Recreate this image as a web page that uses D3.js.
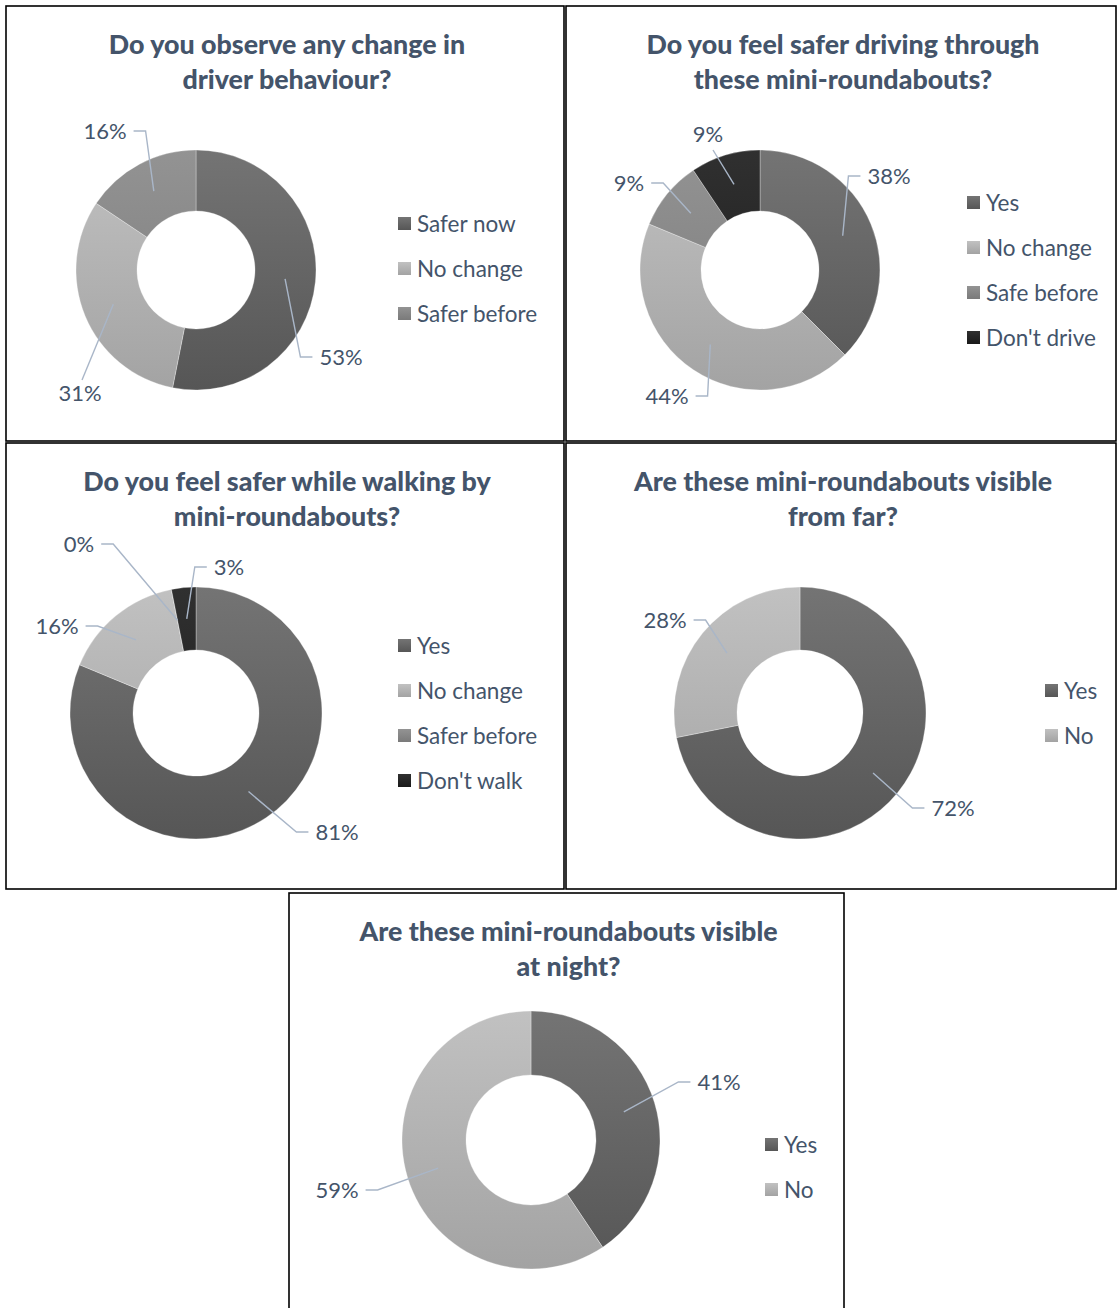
<!DOCTYPE html>
<html>
<head>
<meta charset="utf-8">
<script src="https://cdn.jsdelivr.net/npm/d3@7"></script>
<style>
    body { margin: 0; background: #ffffff; }
    svg { display: block; }
</style>
</head>
<body>
<div id="chart"></div>
<script>
// survey answers, 32 respondents per question
const driverTitle = ["Do you observe any change in", "driver behaviour?"];
const driverCats = ["Safer now", "No change", "Safer before"];
const driverCounts = [17, 10, 5];

const drivingTitle = ["Do you feel safer driving through", "these mini-roundabouts?"];
const drivingCats = ["Yes", "No change", "Safe before", "Don't drive"];
const drivingCounts = [12, 14, 3, 3];

const walkingTitle = ["Do you feel safer while walking by", "mini-roundabouts?"];
const walkingCats = ["Yes", "No change", "Safer before", "Don't walk"];
const walkingCounts = [26, 5, 0, 1];

const farTitle = ["Are these mini-roundabouts visible", "from far?"];
const farCats = ["Yes", "No"];
const farCounts = [23, 9];

const nightTitle = ["Are these mini-roundabouts visible", "at night?"];
const nightCats = ["Yes", "No"];
const nightCounts = [13, 19];

// shade per answer slot
const shadeSets = {
    three: ["dark", "light", "mid"],
    four: ["dark", "light", "mid", "black"],
    two: ["dark", "light"]
};

const shades = {
    dark: ["#747474", "#565656"],
    light: ["#c1c1c1", "#a3a3a3"],
    mid: ["#939393", "#7a7a7a"],
    black: ["#303030", "#1a1a1a"]
};

const textColor = "#44546a",
    leaderColor = "#a9b6c8";

const W = 1117, H = 1308;

const svg = d3.select("#chart")
    .append("svg")
    .attr("width", W)
    .attr("height", H)
    .attr("font-family", "Lato, 'Open Sans', sans-serif");

const defs = svg.append("defs");

// panel layout: frame, donut centre/radii, legend anchor, label spots (relative to donut centre)
const panels = [
    {title: driverTitle, cats: driverCats, counts: driverCounts, shades: shadeSets.three,
        frame: [6, 6, 558, 435], cx: 196, cy: 270, R: 120, r: 59,
        legend: [398, 224], labels: [[145, 87, "left"], [-116, 123, "top"], [-91, -139, "right"]]},
    {title: drivingTitle, cats: drivingCats, counts: drivingCounts, shades: shadeSets.four,
        frame: [566, 6, 550, 435], cx: 760, cy: 270, R: 120, r: 59,
        legend: [967, 203], labels: [[129, -94, "left"], [-93, 126, "right"], [-131, -87, "right"], [-52, -136, "bottom"]]},
    {title: walkingTitle, cats: walkingCats, counts: walkingCounts, shades: shadeSets.four,
        frame: [6, 443, 558, 446], cx: 196, cy: 713, R: 126, r: 63,
        legend: [398, 646], labels: [[141, 119, "left"], [-139, -87, "right"], [-117, -169, "right"], [33, -146, "left"]]},
    {title: farTitle, cats: farCats, counts: farCounts, shades: shadeSets.two,
        frame: [566, 443, 550, 446], cx: 800, cy: 713, R: 126, r: 63,
        legend: [1045, 691], labels: [[153, 95, "left"], [-135, -93, "right"]]},
    {title: nightTitle, cats: nightCats, counts: nightCounts, shades: shadeSets.two,
        frame: [289, 893, 555, 420], cx: 531, cy: 1140, R: 129, r: 65,
        legend: [765, 1145], labels: [[188, -58, "left"], [-194, 50, "right"]]}
];

const pie = d3.pie()
    .sort(null)
    .value(function(d) { return d; });

// one legend swatch gradient per shade
Object.keys(shades).forEach(function(key) {
    const g = defs.append("linearGradient")
        .attr("id", "sw-" + key)
        .attr("x1", 0).attr("y1", 0).attr("x2", 0).attr("y2", 1);
    g.append("stop").attr("offset", "0%").attr("stop-color", shades[key][0]);
    g.append("stop").attr("offset", "100%").attr("stop-color", shades[key][1]);
});

const drawPanel = (p, idx) => {
    const f = p.frame;
    svg.append("rect")
        .attr("x", f[0]).attr("y", f[1])
        .attr("width", f[2]).attr("height", f[3])
        .attr("fill", "none")
        .attr("stroke", "#000")
        .attr("stroke-width", 1.6);

    const midX = f[0] + f[2] / 2 + 2;
    svg.append("g")
        .selectAll("text")
        .data(p.title)
        .enter().append("text")
        .attr("x", midX)
        .attr("y", function(d, i) { return f[1] + 48 + i * 35; })
        .attr("text-anchor", "middle")
        .attr("font-weight", 900)
        .attr("font-size", 26.8)
        .attr("fill", textColor)
        .text(function(d) { return d; });

    // vertical gradients spanning the donut
    Object.keys(shades).forEach(function(key) {
        const g = defs.append("linearGradient")
            .attr("id", "g" + idx + "-" + key)
            .attr("gradientUnits", "userSpaceOnUse")
            .attr("x1", 0).attr("y1", -p.R).attr("x2", 0).attr("y2", p.R);
        g.append("stop").attr("offset", "0%").attr("stop-color", shades[key][0]);
        g.append("stop").attr("offset", "100%").attr("stop-color", shades[key][1]);
    });

    const arc = d3.arc()
        .innerRadius(p.r)
        .outerRadius(p.R);

    const mid = d3.arc()
        .innerRadius((p.r + p.R) / 2)
        .outerRadius((p.r + p.R) / 2);

    const arcs = pie(p.counts);
    const total = d3.sum(p.counts);

    const donut = svg.append("g")
        .attr("transform", "translate(" + p.cx + "," + p.cy + ")");

    donut.selectAll("path")
        .data(arcs)
        .enter().append("path")
        .attr("d", arc)
        .attr("fill", function(d, i) { return "url(#g" + idx + "-" + p.shades[i] + ")"; })
        .attr("stroke", "#ffffff")
        .attr("stroke-opacity", 0.5)
        .attr("stroke-width", 0.6);

    // labels + leader lines
    arcs.forEach(function(d, i) {
        const spot = p.labels[i];
        const c = mid.centroid(d);
        const t = donut.append("text")
            .attr("x", spot[0])
            .attr("y", spot[1])
            .attr("dy", "0.35em")
            .attr("text-anchor", "middle")
            .attr("font-size", 22)
            .attr("fill", textColor)
            .text(Math.round(d.value / total * 100) + "%");
        const half = t.node().getComputedTextLength() / 2;
        let pts;
        if (spot[2] === "left") {
            const x0 = spot[0] - half - 7;
            pts = [c, [x0 - 12, spot[1]], [x0, spot[1]]];
        } else if (spot[2] === "right") {
            const x0 = spot[0] + half + 7;
            pts = [c, [x0 + 12, spot[1]], [x0, spot[1]]];
        } else if (spot[2] === "top") {
            pts = [c, [spot[0] + 2, spot[1] - 13]];
        } else {
            pts = [c, [spot[0] + 5, spot[1] + 16]];
        }
        donut.insert("path", "text")
            .attr("d", d3.line()(pts))
            .attr("fill", "none")
            .attr("stroke", leaderColor)
            .attr("stroke-width", 1.4);
    });

    // legend
    const leg = svg.append("g")
        .selectAll("g")
        .data(p.cats)
        .enter().append("g")
        .attr("transform", function(d, i) {
            return "translate(" + p.legend[0] + "," + (p.legend[1] + i * 45) + ")";
        });

    leg.append("rect")
        .attr("x", 0).attr("y", -7)
        .attr("width", 13).attr("height", 13)
        .attr("fill", function(d, i) { return "url(#sw-" + p.shades[i] + ")"; });

    leg.append("text")
        .attr("x", 19)
        .attr("dy", "0.35em")
        .attr("font-size", 22.5)
        .attr("fill", textColor)
        .text(function(d) { return d; });
};

panels.forEach(drawPanel);
</script>
</body>
</html>
